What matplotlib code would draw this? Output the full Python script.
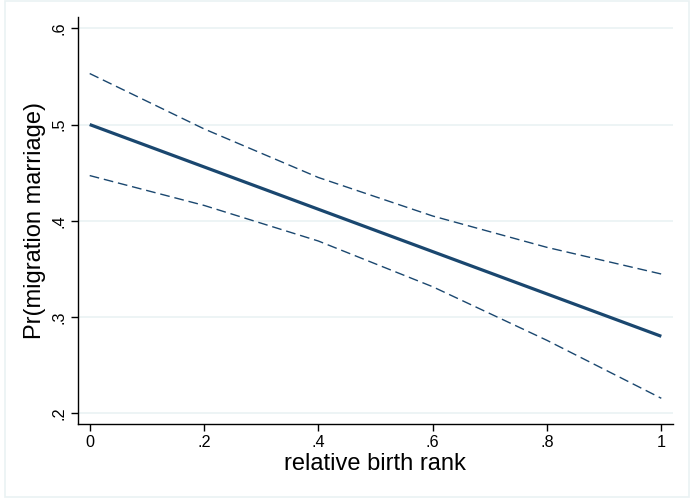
import matplotlib
matplotlib.use("Agg")
import matplotlib.pyplot as plt
from matplotlib.patches import Rectangle

# Data
rank = [0.0, 0.2, 0.4, 0.6, 0.8, 1.0]
pred = [0.500, 0.456, 0.412, 0.368, 0.324, 0.280]
upper = [0.553, 0.4955, 0.445, 0.405, 0.3724, 0.3447]
lower = [0.447, 0.416, 0.379, 0.3315, 0.2758, 0.2156]
xticks = [0, 0.2, 0.4, 0.6, 0.8, 1.0]
xticklabels = ["0", ".2", ".4", ".6", ".8", "1"]
yticks = [0.2, 0.3, 0.4, 0.5, 0.6]
yticklabels = [".2", ".3", ".4", ".5", ".6"]

plt.rcParams['font.family'] = ['Liberation Sans', 'DejaVu Sans']

W, H = 690, 498
fig = plt.figure(figsize=(W / 100, H / 100), dpi=100)
fig.patch.set_facecolor('white')

# outer border
fig.patches.append(Rectangle((4.5 / W, 1 - 496.5 / H), (688.5 - 4.5) / W, (496.5 - 1.5) / H,
                             transform=fig.transFigure, fill=False,
                             edgecolor='#EAF2F3', linewidth=1.2))

left, right, top, bottom = 78, 672.7, 17, 424
ax = fig.add_axes([left / W, 1 - bottom / H, (right - left) / W, (bottom - top) / H])

# y: 0.2 at 413.3, 0.6 at 28.3 -> 962.5 px per unit
ppu_y = (413.3 - 28.3) / 0.4
ymin = 0.2 - (bottom - 413.3) / ppu_y
ymax = 0.6 + (28.3 - top) / ppu_y
ppu_x = (661.3 - 89.7) / 1.0
xmin = 0 - (89.7 - left) / ppu_x
xmax = 1 + (right - 661.3) / ppu_x
ax.set_xlim(xmin, xmax)
ax.set_ylim(ymin, ymax)

color = '#1A476F'
for yv in yticks:
    ax.axhline(yv, color='#EAF2F3', linewidth=1.2, zorder=0)

ax.plot(rank, upper, color=color, linewidth=1.0, linestyle=(0, (7, 3.5)))
ax.plot(rank, lower, color=color, linewidth=1.0, linestyle=(0, (7, 3.5)))
ax.plot(rank, pred, color=color, linewidth=2.3, solid_capstyle='butt')

ax.set_xticks(xticks)
ax.set_xticklabels(xticklabels)
ax.set_yticks(yticks)
ax.set_yticklabels(yticklabels, rotation=90, va='center')

ax.spines['top'].set_visible(False)
ax.spines['right'].set_visible(False)
ax.spines['left'].set_linewidth(1.0)
ax.spines['bottom'].set_linewidth(1.0)
ax.tick_params(axis='both', direction='out', length=5, width=1.0, labelsize=11.7, pad=3, colors='black')

ax.set_xlabel('relative birth rank', fontsize=17, labelpad=2)
ax.set_ylabel('Pr(migration marriage)', fontsize=17, labelpad=4)

fig.savefig('out.png', dpi=100, facecolor='white')
